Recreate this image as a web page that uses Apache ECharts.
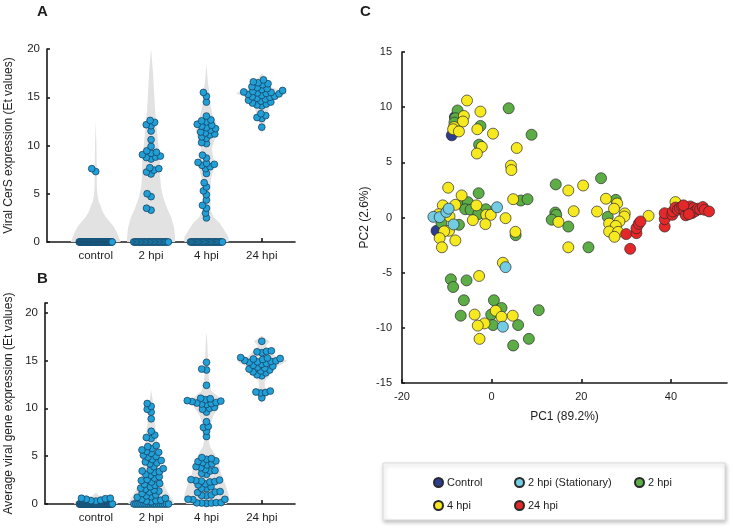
<!DOCTYPE html>
<html><head><meta charset="utf-8">
<script src="https://cdn.jsdelivr.net/npm/echarts@6/dist/echarts.min.js"></script>
<style>html,body{margin:0;padding:0;background:#fff}#c{width:733px;height:529px}</style>
</head><body><div id="c"></div>
<script>
// ---------- categories / ticks ----------
const categories = ['control', '2 hpi', '4 hpi', '24 hpi'];
const catPos = [1, 2, 3, 4];
const yTicksAB = [0, 5, 10, 15, 20];
const xTicksC = [-20, 0, 20, 40];

// ---------- Panel A: Viral CerS expression (Et values) ----------
const cersControl = [0,0,0,0,0,0,0,0,0,0,0,0,0,0,0,0,0,0,0,0,0,0,0,0,0,0,0,0,0,0,0,0,0,0,0,0,0,0,0,0,0,0,0,0,0,
  0,0,0,0,0,0,0,0,0,0,0,0,0,0,0, 7.6, 7.3];
const cers2hpi = [0,0,0,0,0,0,0,0,0,0,0,0,0,0,0,0,0,0,0,0,0,0,0,0,0,0,0,0,
  12.6,12.4,12.15,12.05,11.5,10.6,9.9,9.45,9.3,9.2,9.05,8.9,8.8,8.75,8.6,7.7,7.6,7.45,7.25,7.05,5.0,4.7,3.5,3.3];
const cers4hpi = [0,0,0,0,0,0,0,0,0,0,0,0,0,0,0,0,0,0,0,0,0,0,0,0,0,0,0,0,
  15.5,15.1,14.5,13.05,12.65,12.55,12.45,12.2,12.1,12.0,11.85,11.75,11.6,11.4,11.3,11.2,11.1,10.9,10.75,10.3,10.2,
  9.0,8.7,8.25,8.15,8.05,7.95,7.8,7.6,7.1,6.15,5.7,5.3,4.9,4.35,3.8,3.5,3.0,2.5];
const cers24hpi = [16.8,16.6,16.5,16.4,16.3,16.1,16.0,15.9,15.8,15.7,15.6,15.55,15.5,15.45,15.4,15.35,15.3,15.2,15.1,15.05,
  15.0,14.9,14.8,14.7,14.6,14.5,14.4,14.3,14.2,14.1,13.3,13.1,12.9,12.8,11.9];

// violin density profiles [value, density]
const violinA = [
  [[0,25],[0.5,23],[1,21],[1.6,18],[2.1,14],[2.6,10],[3.1,7],[3.7,5],[4.2,3],[4.7,2],[5.5,1.2],[7,1],[8,1],[10,0.7],[12.6,0]],
  [[0,24],[0.5,24],[1.5,23],[2.6,20],[3.5,16],[4.7,12],[5.6,10],[6.8,9],[8,9],[9,8.5],[10.3,7],[12,5.5],[13.7,4],[15.5,3],[17.5,2],[20,0]],
  [[0,22],[0.5,22],[1.2,18],[2.0,13],[2.6,7],[3.2,4.5],[4.5,4],[5.5,4],[6.5,4.5],[7.5,7],[8.3,7.5],[9.2,6],[9.8,5.5],[10.5,8],[11.5,10.5],[12.3,10],[13.2,6],[14.2,4],[15.5,3],[16.5,1.5],[18.5,0]],
  [[11.2,0],[12.0,2],[13,5],[14,7],[14.8,10],[15.1,18],[15.4,26],[15.7,20],[16,10],[16.5,7],[17,4],[17.5,0]]
];

// ---------- Panel B: Average viral gene expression (Et values) ----------
const avgControl = [0,0,0,0,0,0,0,0,0,0,0,0,0,0,0,0,0,0,0,0,0,0,0,0,0,0,0,0,0,0,0,0,0,0,0,0,0,0,
  0,0,0,0,0,0,0,0,0,0,0,0, 0.4,0.6,0.6,0.55,0.5,0.35,0.3];
const avg2hpi = [0,0,0,0,0,0,0,0,0,0,0,0,0,0,0,0,0,0,
  10.5,10.2,9.9,9.6,8.9,7.6,7.2,6.95,6.85,6.1,6.0,5.8,5.65,5.5,5.4,5.3,5.1,4.97,4.9,4.65,4.55,4.4,4.3,4.2,3.9,3.7,3.55,
  3.45,3.38,3.3,3.1,3.0,2.85,2.7,2.55,2.45,2.3,2.15,2.05,1.95,1.8,1.65,1.55,1.45,1.35,1.25,1.1,0.95,0.85,0.77,0.7,0.6,0.5,0.4,0.35,0.3,0.24];
const avg4hpi = [14.8,14.1,14.0,12.4,11.05,11.0,10.9,10.8,10.75,10.7,10.6,10.55,10.5,10.45,10.4,10.1,10.0,9.9,9.6,8.6,8.1,8.0,7.6,7.05,
  4.85,4.75,4.67,4.5,4.43,4.33,4.2,4.08,3.9,3.8,3.6,3.5,3.45,3.2,3.1,2.55,2.5,2.45,2.4,2.34,2.3,2.1,2.0,1.8,1.64,1.6,
  1.3,1.25,1.2,0.94,0.9,0.85,0.5,0.49,0.45,0.14,0.12,0.1,0.1,0.15,0.05];
const avg24hpi = [17.0,16.0,15.95,15.9,15.8,15.3,15.25,15.2,15.15,15.1,15.0,14.95,14.9,14.85,14.8,14.7,14.6,14.5,14.4,14.3,14.2,14.1,
  14.0,13.9,13.8,13.7,13.5,13.4,11.8,11.7,11.65,11.6,11.1];

const violinB = [
  [[0,22],[0.3,20],[0.6,12],[0.9,3],[1.2,0]],
  [[0,23],[0.3,22],[0.8,19],[1.5,15],[2.5,11],[3.9,8.5],[5.6,7],[7.4,5],[9,3],[10.5,2],[11.9,0]],
  [[0,20],[0.4,23],[1,22],[2,19],[3,15],[4,13],[4.8,10],[5.4,7],[6,3.5],[6.6,2.5],[7.5,4],[8.5,4.5],[9.3,7],[10,12],[10.6,15],[11.2,12],[11.8,5],[12.6,3],[13.5,2],[15,1.5],[16.5,1],[18,0]],
  [[10.5,0],[11.2,4],[11.7,7],[12.2,3],[12.8,3],[13.5,8],[14.2,12],[14.7,22],[15,25],[15.4,14],[16,8],[16.5,4],[17,8],[17.3,4],[17.6,0]]
];

// ---------- Panel C: PCA ----------
const pcaControl = [[-8.9,7.45],[-8.2,9.1],[-12.3,-1.2]];
const pca2hpi = [[-7.6,9.7],[-8.1,9.0],[-2.5,8.3],[3.8,9.9],[8.9,7.5],[-2.8,6.6],[-8.3,8.6],
  [-2.9,2.2],[-6.4,1.15],[-5.3,1.39],[-5.9,0.75],[-4.7,0.7],[-1.3,0.75],[-3.0,0.3],[6.5,1.54],[8.0,1.66],[5.35,-1.6],[-7.3,-0.66],[-11.2,-0.5],
  [14.3,3.0],[24.4,3.56],[14.2,0.45],[14.4,0.24],[13.4,-0.2],[17.1,-0.82],[21.6,-2.7],[27.7,1.6],[25.9,0.06],
  [-9.1,-5.6],[-8.6,-6.3],[-5.6,-5.7],[-6.2,-7.5],[0.5,-7.5],[-6.9,-8.9],[2.2,-8.2],[-0.1,-8.8],[10.5,-8.4],[0.3,-9.75],[5.9,-9.75],[8.3,-11.0],[4.8,-11.6]];
const pca4hpi = [[-5.5,10.6],[-6.2,9.2],[-6.4,8.7],[-8.4,8.2],[-8.6,8.0],[-7.3,7.8],[-2.5,9.6],[-3.2,8.0],[0.3,7.6],[-2.2,6.4],[-3.3,5.8],[5.6,6.3],[4.3,4.7],[4.4,4.3],
  [-9.7,2.7],[-6.7,2.0],[-10.9,1.1],[-8.1,1.15],[-3.4,1.1],[-4.2,-0.24],[-1.2,0.24],[-0.2,0.24],[-1.4,-0.6],[3.1,-0.06],[4.8,1.66],[5.3,-1.3],
  [-9.5,-1.2],[-10.6,-1.25],[-11.6,-1.87],[-11.1,-2.7],[-8.1,-2.08],[-11.8,0.3],[-9.4,0.1],
  [17.1,2.45],[20.4,2.9],[18.3,0.57],[23.5,0.54],[14.9,-0.4],[17.1,-2.7],[25.5,1.7],[28.0,1.27],[27.3,0.8],[29.7,0.37],[29.6,0.09],
  [26.2,-0.55],[28.5,-0.36],[27.7,-0.76],[26.2,-1.27],[28.2,-1.3],[27.4,-1.75],[35.0,0.15],[41.0,1.4],
  [2.5,-4.1],[-2.8,-5.3],[-3.8,-8.8],[0.9,-8.45],[2.2,-9.0],[4.7,-8.9],[-1.6,-9.6],[-3.1,-9.8],[-2.7,-11.0]];
const pcaStationary = [[-13.0,0.06],[-11.6,0.03],[-10.1,0.5],[-9.6,0.8],[-8.5,-0.63],[1.2,0.93],[3.1,-4.5],[2.5,-9.9]];
const pca24hpi = [[38.6,-0.82],[38.6,-0.15],[38.6,0.39],[40.3,0.24],[40.4,0.54],[41.0,0.9],[41.5,0.7],[42.0,0.85],[42.5,1.0],[43.0,0.6],
  [43.3,0.2],[43.5,0.9],[44.0,0.75],[44.3,1.0],[44.7,0.4],[45.0,0.85],[45.5,0.6],[46.0,0.8],[46.5,0.75],[47.1,0.95],[47.5,0.7],[48.5,0.55],
  [42.8,1.1],[44.0,0.3],[30.0,-1.5],[32.3,-1.42],[32.3,-0.97],[32.8,-0.57],[33.2,-0.36],[30.9,-2.84]];

// ---------- helpers ----------
const FONT = "'Liberation Sans', Arial, Helvetica, sans-serif";
const TXT = '#1e1e1e';
const violinScale = 1 / 55.3; // density units -> x units

// beeswarm: offsets computed in pixels, returned in data units
function swarm(values, cx, pxPerX, pxPerY, diam, zeroHalf) {
  const out = [];
  const zeros = values.filter(v => v === 0);
  zeros.forEach((v, i) => {
    const off = zeros.length > 1 ? -zeroHalf + 2 * zeroHalf * i / (zeros.length - 1) : 0;
    out.push([cx + off / pxPerX, 0]);
  });
  const nz = values.filter(v => v !== 0).slice().sort((a, b) => a - b);
  const placed = [];
  nz.forEach(v => {
    const y = v * pxPerY;
    const near = placed.filter(p => Math.abs(p[1] - y) < diam);
    const cands = [0];
    near.forEach(p => {
      const w = Math.sqrt(diam * diam - (p[1] - y) ** 2);
      cands.push(p[0] + w + 0.01, p[0] - w - 0.01);
    });
    cands.sort((a, b) => Math.abs(a) - Math.abs(b) || a - b);
    let x = 0;
    for (const c of cands) {
      if (near.every(p => (p[0] - c) ** 2 + (p[1] - y) ** 2 >= diam * diam - 0.05)) { x = c; break; }
    }
    placed.push([x, y]);
    out.push([cx + x / pxPerX, v]);
  });
  return out;
}

function violinSeries(idx, profiles) {
  return {
    type: 'custom', xAxisIndex: idx, yAxisIndex: idx, silent: true, z: 1, clip: true,
    data: profiles.map((p, i) => [catPos[i], 0]),
    renderItem: (params, api) => {
      const prof = profiles[params.dataIndex];
      const cx = catPos[params.dataIndex];
      const pts = [];
      prof.forEach(([y, d]) => pts.push(api.coord([cx + d * violinScale, y])));
      for (let k = prof.length - 1; k >= 0; k--) {
        const [y, d] = prof[k];
        pts.push(api.coord([cx - d * violinScale, y]));
      }
      return { type: 'polygon', shape: { points: pts }, style: { fill: '#e2e2e2' } };
    }
  };
}

const zeroHalfA = [16.5, 17.3, 16, 0];
const groupsA = [cersControl, cers2hpi, cers4hpi, cers24hpi];
const groupsB = [avgControl, avg2hpi, avg4hpi, avg24hpi];
const swarmGap = 4.9;
let swarmA = [], swarmB = [];
groupsA.forEach((g, i) => { swarmA = swarmA.concat(swarm(g, catPos[i], 55.36, 9.65, swarmGap, zeroHalfA[i])); });
groupsB.forEach((g, i) => { swarmB = swarmB.concat(swarm(g, catPos[i], 55.3, 9.57, swarmGap, zeroHalfA[i])); });

const axisLineStyle = { color: '#1a1a1a', width: 1.6 };
function catXAxis(grid, min) {
  return {
    gridIndex: grid, type: 'value', min: min, max: 4.6,
    axisLine: { show: true, onZero: false, lineStyle: axisLineStyle },
    axisTick: { show: true, inside: true, length: 4, customValues: catPos, lineStyle: axisLineStyle },
    axisLabel: { customValues: catPos, formatter: v => categories[Math.round(v) - 1], fontSize: 11.5, color: TXT, fontFamily: FONT, margin: 8 },
    splitLine: { show: false }
  };
}
function abYAxis(grid, max, name, gap, tickVals) {
  return {
    gridIndex: grid, type: 'value', min: 0, max: max,
    name: name, nameLocation: 'middle', nameGap: gap,
    nameTextStyle: { fontSize: 12, color: TXT, fontFamily: FONT },
    axisLine: { show: true, onZero: false, lineStyle: axisLineStyle },
    axisTick: { show: true, inside: true, length: 3, customValues: tickVals, lineStyle: axisLineStyle },
    axisLabel: { customValues: yTicksAB, fontSize: 11.5, color: TXT, fontFamily: FONT, margin: 7 },
    splitLine: { show: false }
  };
}

const pointStyle = { color: '#21a0d7', borderColor: '#153654', borderWidth: 0.7, opacity: 1 };
const pcaBorder = { borderColor: '#2a2a2a', borderWidth: 0.7, opacity: 1 };
function pcaSeries(name, data, color) {
  return { type: 'scatter', name: name, xAxisIndex: 2, yAxisIndex: 2, data: data, symbolSize: 11, z: 3,
    itemStyle: Object.assign({ color: color }, pcaBorder), emphasis: { disabled: true } };
}
function legendItem(name, left, top) {
  return { data: [name], left: left, top: top, icon: 'circle', itemWidth: 9, itemHeight: 9, itemGap: 4, z: 6,
    selectedMode: false, textStyle: { fontSize: 11, color: TXT, fontFamily: FONT, padding: [0, 0, 0, -1] } };
}

const option = {
  animation: false,
  textStyle: { fontFamily: FONT },
  title: [
    { text: 'A', left: 32, top: -1, textStyle: { fontSize: 15, fontWeight: 'bold', color: TXT, fontFamily: FONT } },
    { text: 'B', left: 32, top: 266, textStyle: { fontSize: 15, fontWeight: 'bold', color: TXT, fontFamily: FONT } },
    { text: 'C', left: 355, top: -1, textStyle: { fontSize: 15, fontWeight: 'bold', color: TXT, fontFamily: FONT } }
  ],
  grid: [
    { left: 47, top: 49, width: 248, height: 193 },
    { left: 45, top: 303, width: 250, height: 201 },
    { left: 402, top: 52, width: 325, height: 331 }
  ],
  xAxis: [
    catXAxis(0, 0.12),
    catXAxis(1, 0.08),
    {
      gridIndex: 2, type: 'value', min: -20, max: 52.5,
      name: 'PC1 (89.2%)', nameLocation: 'middle', nameGap: 28,
      nameTextStyle: { fontSize: 12, color: TXT, fontFamily: FONT },
      axisLine: { show: true, onZero: false, lineStyle: axisLineStyle },
      axisTick: { show: true, inside: true, length: 4, customValues: xTicksC, lineStyle: axisLineStyle },
      axisLabel: { customValues: xTicksC, fontSize: 11, color: TXT, fontFamily: FONT, margin: 8 },
      splitLine: { show: false }
    }
  ],
  yAxis: [
    abYAxis(0, 20, 'Viral CerS expression (Et values)', 32, yTicksAB),
    abYAxis(1, 21, 'Average viral gene expression (Et values)', 30, [0, 5, 10, 15, 20, 21]),
    {
      gridIndex: 2, type: 'value', min: -15, max: 15, interval: 5,
      name: 'PC2 (2.6%)', nameLocation: 'middle', nameGap: 31,
      nameTextStyle: { fontSize: 12, color: TXT, fontFamily: FONT },
      axisLine: { show: true, onZero: false, lineStyle: axisLineStyle },
      axisTick: { show: true, inside: true, length: 3, lineStyle: axisLineStyle },
      axisLabel: { fontSize: 11, color: TXT, fontFamily: FONT, margin: 10 },
      splitLine: { show: false }
    }
  ],
  legend: [
    legendItem('Control', 428, 472),
    legendItem('2 hpi (Stationary)', 509, 472),
    legendItem('2 hpi', 629, 472),
    legendItem('4 hpi', 428, 495),
    legendItem('24 hpi', 509, 495)
  ],
  graphic: [
    { type: 'rect', z: 0, silent: true, shape: { x: 383, y: 463, width: 342, height: 57 },
      style: { fill: '#ffffff', stroke: '#dadada', lineWidth: 1, shadowBlur: 4, shadowOffsetX: 1, shadowOffsetY: 2, shadowColor: 'rgba(0,0,0,0.25)' } }
  ],
  series: [
    violinSeries(0, violinA),
    violinSeries(1, violinB),
    { type: 'scatter', xAxisIndex: 0, yAxisIndex: 0, data: swarmA, symbolSize: 6.8, z: 3, itemStyle: pointStyle, emphasis: { disabled: true }, clip: false },
    { type: 'scatter', xAxisIndex: 1, yAxisIndex: 1, data: swarmB, symbolSize: 6.8, z: 3, itemStyle: pointStyle, emphasis: { disabled: true }, clip: false },
    pcaSeries('Control', pcaControl, '#2c3d8e'),
    pcaSeries('2 hpi', pca2hpi, '#5dad46'),
    pcaSeries('4 hpi', pca4hpi, '#f6e920'),
    pcaSeries('2 hpi (Stationary)', pcaStationary, '#72cce2'),
    pcaSeries('24 hpi', pca24hpi, '#e4282a')
  ]
};
const chart = echarts.init(document.getElementById('c'), null, { renderer: 'canvas' });
chart.setOption(option);
</script></body></html>
